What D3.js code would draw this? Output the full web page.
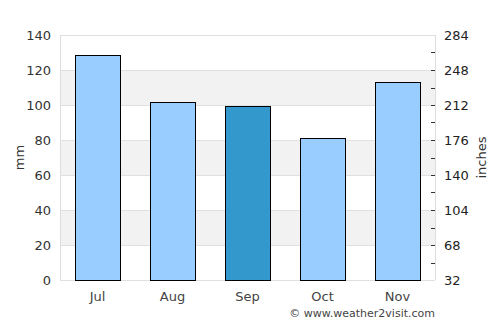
<!DOCTYPE html>
<html>
<head>
<meta charset="utf-8">
<script src="https://cdn.jsdelivr.net/npm/d3@7"></script>
<style>
  body { margin: 0; background: #fff; }
  svg { font-family: "DejaVu Sans", sans-serif; }
</style>
</head>
<body>
<div class="chart"></div>
<script>
const months = ["Jul", "Aug", "Sep", "Oct", "Nov"];
const rainfall = [128.5, 101.7, 99.4, 80.9, 112.9];
const highlight = ["Sep"];
const leftTicks = [0, 20, 40, 60, 80, 100, 120, 140];
const rightTicks = [32, 68, 104, 140, 176, 212, 248, 284];

const width = 500, height = 325;
const margin = {left: 60, right: 65, top: 35, bottom: 45};
const innerW = width - margin.left - margin.right, innerH = height - margin.top - margin.bottom;

const x = d3.scaleBand()
    .domain(months)
    .range([0, innerW])
    .paddingInner(0.4)
    .paddingOuter(0.2);

const y = d3.scaleLinear()
    .domain([0, 140])
    .range([innerH, 0]);

const y2 = d3.scaleLinear()
    .domain([32, 284])
    .range([innerH, 0]);

const svg = d3.select(".chart").append("svg")
    .attr("width", width)
    .attr("height", height);

const g = svg.append("g")
    .attr("transform", "translate(" + [margin.left, margin.top] + ")");

// alternating bands
const bands = d3.range(0, leftTicks.length - 1).filter(i => i % 2 === 1);
g.selectAll("rect.band")
    .data(bands)
  .enter().append("rect")
    .attr("class", "band")
    .attr("x", 0)
    .attr("width", innerW)
    .attr("y", i => y(leftTicks[i + 1]))
    .attr("height", i => y(leftTicks[i]) - y(leftTicks[i + 1]))
    .attr("fill", "#f2f2f2");

g.selectAll("line.grid")
    .data(leftTicks)
  .enter().append("line")
    .attr("class", "grid")
    .attr("x1", 0)
    .attr("x2", innerW)
    .attr("y1", d => Math.round(y(d)) + 0.5)
    .attr("y2", d => Math.round(y(d)) + 0.5)
    .attr("stroke", "#e0e0e0");

// frame sides
g.append("line")
    .attr("x1", 0.5).attr("x2", 0.5)
    .attr("y1", 0).attr("y2", innerH)
    .attr("stroke", "#ddd");
g.append("line")
    .attr("x1", innerW + 0.5).attr("x2", innerW + 0.5)
    .attr("y1", 0).attr("y2", innerH)
    .attr("stroke", "#ddd");

g.selectAll("rect.bar")
    .data(months)
  .enter().append("rect")
    .attr("class", "bar")
    .attr("x", d => Math.round(x(d)) + 0.5)
    .attr("width", x.bandwidth())
    .attr("y", (d, i) => Math.round(y(rainfall[i])) + 0.5)
    .attr("height", (d, i) => innerH - Math.round(y(rainfall[i])))
    .attr("fill", d => highlight.includes(d) ? "#3399cc" : "#99ccff")
    .attr("stroke", "#000")
    .attr("stroke-width", 1);

// left axis labels
g.selectAll("text.ly")
    .data(leftTicks)
  .enter().append("text")
    .attr("class", "ly")
    .attr("x", -9)
    .attr("y", d => y(d))
    .attr("dy", "0.36em")
    .attr("text-anchor", "end")
    .attr("fill", "#333")
    .style("font-size", "13px")
    .text(d => d);

// right axis ticks and labels
const ra = g.append("g")
    .attr("transform", "translate(" + innerW + ",0)");
ra.selectAll("line.rt")
    .data(d3.range(32, 285, 18))
  .enter().append("line")
    .attr("class", "rt")
    .attr("x1", -4).attr("x2", 0)
    .attr("y1", d => Math.round(y2(d)) + 0.5)
    .attr("y2", d => Math.round(y2(d)) + 0.5)
    .attr("stroke", "#333")
    .style("display", d => d === 32 || d === 284 ? "none" : null);
ra.selectAll("text.ry")
    .data(rightTicks)
  .enter().append("text")
    .attr("class", "ry")
    .attr("x", 9)
    .attr("y", d => y2(d))
    .attr("dy", "0.36em")
    .attr("fill", "#222")
    .style("font-size", "13px")
    .text(d => d);

// month labels
g.selectAll("text.mx")
    .data(months)
  .enter().append("text")
    .attr("class", "mx")
    .attr("x", d => x(d) + x.bandwidth() / 2)
    .attr("y", innerH + 21)
    .attr("text-anchor", "middle")
    .attr("fill", "#444")
    .style("font-size", "13px")
    .text(d => d);

svg.append("text")
    .attr("transform", "translate(24," + (margin.top + innerH / 2) + ") rotate(-90)")
    .attr("text-anchor", "middle")
    .attr("fill", "#333")
    .style("font-size", "13px")
    .text("mm");

svg.append("text")
    .attr("transform", "translate(486," + (margin.top + innerH / 2) + ") rotate(-90)")
    .attr("text-anchor", "middle")
    .attr("fill", "#333")
    .style("font-size", "13px")
    .text("inches");

svg.append("text")
    .attr("x", margin.left + innerW)
    .attr("y", 317)
    .attr("text-anchor", "end")
    .attr("fill", "#444")
    .style("font-size", "11px")
    .text("© www.weather2visit.com");
</script>
</body>
</html>
